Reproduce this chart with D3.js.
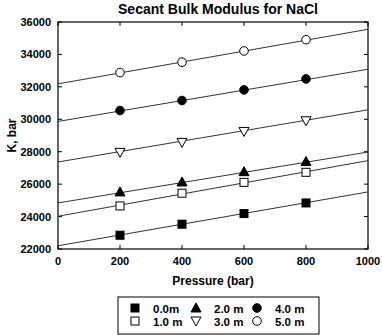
<!DOCTYPE html>
<html lang="en">
<head>
<meta charset="utf-8">
<title>Secant Bulk Modulus for NaCl</title>
<script src="https://cdn.jsdelivr.net/npm/d3@7/dist/d3.min.js"></script>
<style>
  body { margin: 0; background: #fff; }
  text { font-family: "Liberation Sans", Arial, sans-serif; font-weight: bold; fill: #000; }
</style>
</head>
<body>
<script>
// data
var pressures = [200, 400, 600, 800];
var seriesNames = ["0.0m", "1.0 m", "2.0 m", "3.0 m", "4.0 m", "5.0 m"];
var k00 = [22850, 23530, 24185, 24840];
var k10 = [24657, 25440, 26110, 26730];
var k20 = [25520, 26135, 26770, 27400];
var k30 = [27960, 28575, 29250, 29908];
var k40 = [30540, 31157, 31815, 32490];
var k50 = [32880, 33520, 34215, 34910];
// fitted lines: value at P = 0 and P = 1000
var fitAt0    = [22200, 24020, 24840, 27365, 29865, 32185];
var fitAt1000 = [25520, 27450, 27980, 30585, 33087, 35550];
var xTicks = [0, 200, 400, 600, 800, 1000];
var yTicks = [22000, 24000, 26000, 28000, 30000, 32000, 34000, 36000];

var allK = [k00, k10, k20, k30, k40, k50];
// marker: shape + filled
var markers = [
  {shape: "square", fill: true},
  {shape: "square", fill: false},
  {shape: "up", fill: true},
  {shape: "down", fill: false},
  {shape: "circle", fill: true},
  {shape: "circle", fill: false}
];

var w = 382, h = 335;
var pLeft = 58, pRight = 368, pTop = 22, pBottom = 249;

var svg = d3.select("body").append("svg").attr("width", w).attr("height", h);

var x = d3.scaleLinear().domain([0, 1000]).range([pLeft, pRight]);
var y = d3.scaleLinear().domain([22000, 36000]).range([pBottom, pTop]);

function drawMarker(g, m, cx, cy) {
  var fill = m.fill ? "#000" : "#fff";
  if (m.shape === "square") {
    g.append("rect").attr("x", cx - 4).attr("y", cy - 4).attr("width", 8).attr("height", 8)
      .attr("fill", fill).attr("stroke", "#000").attr("stroke-width", 1);
  } else if (m.shape === "circle") {
    g.append("circle").attr("cx", cx).attr("cy", cy).attr("r", 4.3)
      .attr("fill", fill).attr("stroke", "#000").attr("stroke-width", 1);
  } else {
    var s = m.shape === "up" ? 1 : -1;
    var pts = [[cx, cy - 5 * s], [cx - 5, cy + 4 * s], [cx + 5, cy + 4 * s]];
    g.append("polygon").attr("points", pts.map(function(p){ return p.join(","); }).join(" "))
      .attr("fill", fill).attr("stroke", "#000").attr("stroke-width", 1);
  }
}

// frame
svg.append("rect").attr("x", pLeft).attr("y", pTop).attr("width", pRight - pLeft).attr("height", pBottom - pTop)
  .attr("fill", "none").attr("stroke", "#000").attr("stroke-width", 1.2);

// inward ticks on all sides
var tl = 4;
xTicks.forEach(function(t) {
  svg.append("line").attr("x1", x(t)).attr("x2", x(t)).attr("y1", pBottom).attr("y2", pBottom - tl).attr("stroke", "#000");
  svg.append("line").attr("x1", x(t)).attr("x2", x(t)).attr("y1", pTop).attr("y2", pTop + tl).attr("stroke", "#000");
  svg.append("text").attr("x", x(t)).attr("y", pBottom + 16).attr("text-anchor", "middle")
    .attr("font-size", "11px").text(t);
});
yTicks.forEach(function(t) {
  svg.append("line").attr("x1", pLeft).attr("x2", pLeft + tl).attr("y1", y(t)).attr("y2", y(t)).attr("stroke", "#000");
  svg.append("line").attr("x1", pRight).attr("x2", pRight - tl).attr("y1", y(t)).attr("y2", y(t)).attr("stroke", "#000");
  svg.append("text").attr("x", pLeft - 7).attr("y", y(t) + 4).attr("text-anchor", "end")
    .attr("font-size", "11px").text(t);
});

// fit lines
var plot = svg.append("g");
fitAt0.forEach(function(v, i) {
  plot.append("line").attr("x1", x(0)).attr("y1", y(v)).attr("x2", x(1000)).attr("y2", y(fitAt1000[i]))
    .attr("stroke", "#333").attr("stroke-width", 1);
});

// points
allK.forEach(function(ks, i) {
  ks.forEach(function(k, j) {
    drawMarker(plot, markers[i], x(pressures[j]), y(k));
  });
});

// titles
svg.append("text").attr("x", 218).attr("y", 14).attr("text-anchor", "middle")
  .attr("font-size", "14px").text("Secant Bulk Modulus for NaCl");
svg.append("text").attr("x", (pLeft + pRight) / 2).attr("y", 285).attr("text-anchor", "middle")
  .attr("font-size", "12px").text("Pressure (bar)");
svg.append("text").attr("transform", "translate(16," + ((pTop + pBottom) / 2) + ") rotate(-90)")
  .attr("text-anchor", "middle").attr("font-size", "12px").text("K, bar");

// legend
var lg = svg.append("g");
lg.append("rect").attr("x", 118).attr("y", 297).attr("width", 201).attr("height", 37)
  .attr("fill", "#fff").attr("stroke", "#000").attr("stroke-width", 1);
var colX = [135, 196, 257];
var rowY = [308, 321];
seriesNames.forEach(function(name, i) {
  var c = Math.floor(i / 2), r = i % 2;
  drawMarker(lg, markers[i], colX[c], rowY[r]);
  lg.append("text").attr("x", colX[c] + 18).attr("y", rowY[r] + 4.5).attr("font-size", "11.5px").text(name);
});
</script>
</body>
</html>
